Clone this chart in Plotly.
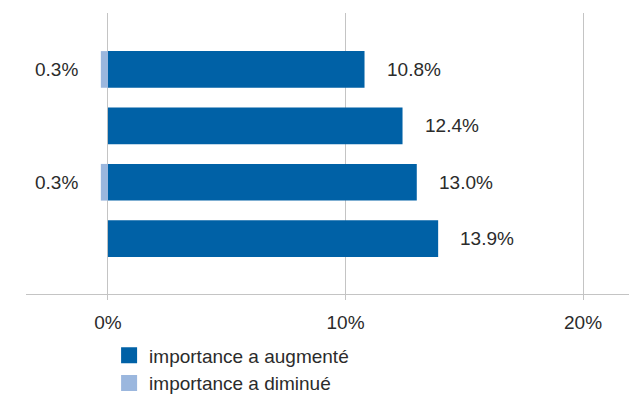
import plotly.graph_objects as go

categories = ["r1", "r2", "r3", "r4"]
increased = [10.8, 12.4, 13.0, 13.9]
decreased = [-0.3, None, -0.3, None]
tick_values = [0, 10, 20]
tick_labels = ["0%", "10%", "20%"]
series_names = ["importance a augmenté", "importance a diminué"]

DARK = "#0061a6"
LIGHT = "#9bb7de"
TXT = "#2b2b2b"
GRID = "#c4c4c4"

fig = go.Figure()
fig.add_trace(go.Bar(y=categories, x=increased, orientation="h", name=series_names[0],
                     marker=dict(color=DARK, line=dict(width=0)), width=0.65,
                     showlegend=False, legendgroup="a"))
fig.add_trace(go.Bar(y=categories, x=decreased, orientation="h", name=series_names[1],
                     marker=dict(color=LIGHT, line=dict(width=0)), width=0.65,
                     showlegend=False, legendgroup="b"))
# legend entries with larger square swatches
fig.add_trace(go.Scatter(x=[None], y=[None], mode="markers", name=series_names[0],
                         marker=dict(symbol="square", size=16, color=DARK), legendgroup="a"))
fig.add_trace(go.Scatter(x=[None], y=[None], mode="markers", name=series_names[1],
                         marker=dict(symbol="square", size=16, color=LIGHT), legendgroup="b"))

for c, v in zip(categories, increased):
    fig.add_annotation(x=v, y=c, text=f"{v:.1f}%", showarrow=False, xanchor="left",
                       xshift=20, font=dict(size=19, color=TXT))
for c, v in zip(categories, decreased):
    if v is not None:
        fig.add_annotation(x=v, y=c, text=f"{abs(v):.1f}%", showarrow=False, xanchor="right",
                           xshift=-21, font=dict(size=19, color=TXT))

fig.update_layout(
    width=629, height=395,
    margin=dict(l=18, r=0, t=5, b=98),
    paper_bgcolor="white", plot_bgcolor="white",
    barmode="relative",
    font=dict(family="Liberation Sans, Arial, sans-serif", color=TXT),
    showlegend=True,
    legend=dict(x=0.136, y=-0.151, xanchor="left", yanchor="top",
                font=dict(size=19, color=TXT), traceorder="normal",
                bgcolor="rgba(0,0,0,0)", itemclick=False, tracegroupgap=0),
    xaxis=dict(range=[-3.45, 22.27], tickvals=tick_values, ticktext=tick_labels,
               showgrid=True, gridcolor=GRID, gridwidth=1, zeroline=False,
               showline=True, linecolor=GRID, linewidth=1,
               ticks="outside", ticklen=5, tickcolor=GRID,
               tickfont=dict(size=19, color=TXT), ticklabelstandoff=6),
    yaxis=dict(range=[3.98, -1.0], showticklabels=False, showgrid=False, zeroline=False,
               showline=False, type="category"),
)

fig.write_html("out.html")
